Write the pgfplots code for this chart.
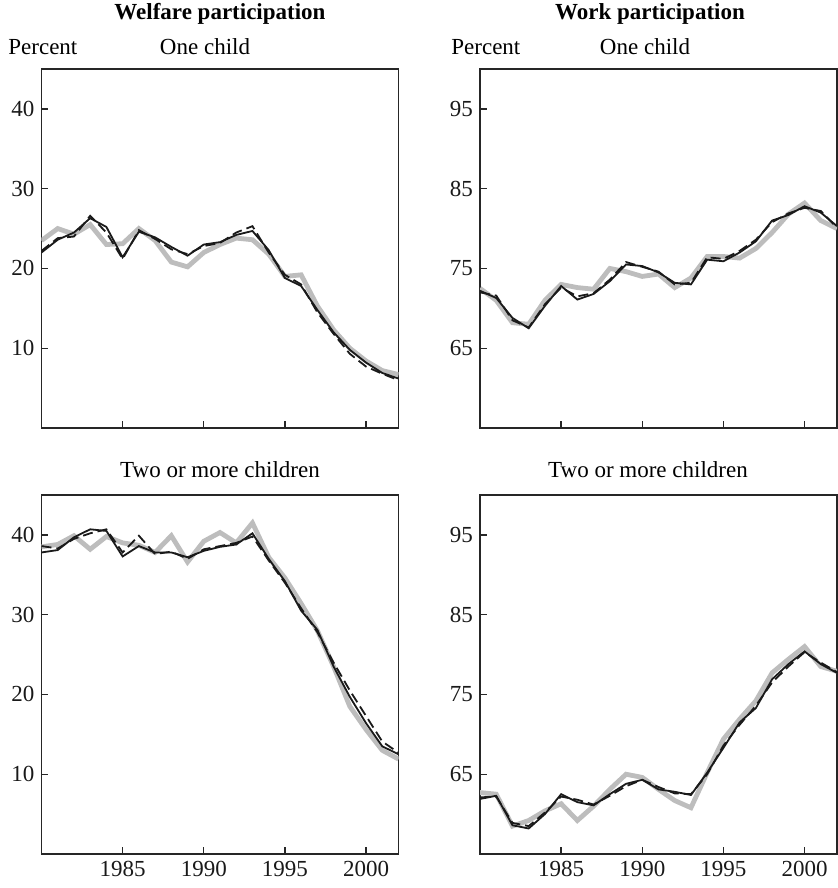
\documentclass[border=0pt]{standalone}
\usepackage{fontspec}
\setmainfont{Liberation Serif}
\usepackage{pgfplots}
\usepackage{pgfplotstable}
\pgfplotsset{compat=1.18}
\definecolor{lgray}{HTML}{BDBDBD}
\definecolor{ink}{HTML}{1A1A1A}

\pgfplotstableread{
year g s d
1980 23.5 22.0 22.2
1981 25.0 23.6 23.8
1982 24.3 24.5 24.0
1983 25.5 26.3 26.6
1984 23.0 25.2 24.5
1985 23.1 21.4 21.2
1986 25.0 24.6 24.8
1987 23.5 23.9 23.7
1988 20.8 22.7 22.4
1989 20.2 21.6 21.8
1990 22.0 23.0 22.8
1991 23.0 23.3 23.2
1992 23.8 24.2 24.5
1993 23.6 24.7 25.3
1994 21.8 22.3 22.0
1995 19.0 18.8 19.2
1996 19.2 17.8 18.0
1997 15.3 14.8 14.5
1998 12.3 12.0 11.8
1999 10.0 9.8 9.3
2000 8.4 8.2 7.7
2001 7.2 6.9 6.8
2002 6.7 6.2 6.0
}\welfareone

\pgfplotstableread{
year g s d
1980 72.5 72.2 72.0
1981 71.0 71.3 71.6
1982 68.2 68.8 68.5
1983 68.0 67.5 67.6
1984 71.0 70.3 70.5
1985 73.0 72.8 72.6
1986 72.6 71.1 71.5
1987 72.4 71.8 71.9
1988 75.0 73.4 73.6
1989 74.6 75.5 75.8
1990 74.0 75.3 75.2
1991 74.3 74.5 74.6
1992 72.6 73.2 73.0
1993 73.8 73.0 73.2
1994 76.5 76.1 76.4
1995 76.5 75.9 76.2
1996 76.3 77.0 77.2
1997 77.5 78.4 78.6
1998 79.5 81.0 80.8
1999 81.8 81.7 81.9
2000 83.2 82.8 82.6
2001 81.0 82.0 82.2
2002 80.0 80.3 80.1
}\workone

\pgfplotstableread{
year g s d
1980 38.5 37.8 38.6
1981 38.8 38.1 38.3
1982 39.9 39.7 39.5
1983 38.2 40.7 40.2
1984 39.8 40.5 40.7
1985 39.0 37.3 37.8
1986 38.7 38.6 39.9
1987 37.8 37.8 37.6
1988 39.9 37.8 37.9
1989 36.6 37.2 37.0
1990 39.2 38.0 38.2
1991 40.3 38.5 38.6
1992 39.0 38.8 39.0
1993 41.5 40.2 39.8
1994 37.2 37.0 36.8
1995 34.6 34.2 34.0
1996 31.4 30.5 30.8
1997 28.0 28.1 27.8
1998 23.5 23.5 24.0
1999 18.5 19.7 20.5
2000 15.6 16.4 17.3
2001 13.0 13.5 14.1
2002 11.9 12.5 12.7
}\welfaretwo

\pgfplotstableread{
year g s d
1980 62.7 61.9 62.1
1981 62.5 62.3 62.2
1982 58.5 58.6 58.9
1983 59.2 58.2 58.5
1984 60.4 60.0 60.2
1985 61.3 62.5 62.2
1986 59.2 61.5 61.8
1987 61.0 61.1 61.2
1988 63.1 62.5 62.3
1989 65.0 63.8 63.5
1990 64.6 64.3 64.3
1991 63.1 63.1 63.4
1992 61.7 62.8 62.6
1993 60.8 62.4 62.5
1994 65.2 65.2 65.0
1995 69.4 68.3 68.6
1996 71.9 71.5 71.2
1997 74.2 73.3 73.6
1998 77.7 76.9 76.5
1999 79.4 78.8 78.5
2000 81.0 80.4 80.3
2001 78.5 78.8 79.0
2002 77.9 77.7 77.8
}\worktwo

\pgfplotsset{
  panel/.style={
    scale only axis, width=178.5pt, height=179.5pt, anchor=south west,
    xmin=1980, xmax=2002, xtick={1985,1990,1995,2000},
    tick align=inside, xtick pos=bottom, ytick pos=left,
    major tick length=3.5pt,
    axis line style={line width=0.65pt, color=black!85},
    every tick/.style={line width=0.65pt, color=black!85},
    /pgf/number format/1000 sep={},
    /pgf/number format/assume math mode=true,
    tick label style={font=\fontsize{11.5}{13}\selectfont, text=black!90},
  },
  wel/.style={ymin=0, ymax=45, ytick={10,20,30,40}},
  wrk/.style={ymin=55, ymax=100, ytick={65,75,85,95}},
  gline/.style={color=lgray, line width=2.4pt, no markers},
  sline/.style={color=ink, line width=0.9pt, no markers},
  dline/.style={color=ink, line width=0.9pt, no markers, dash pattern=on 5pt off 2.5pt},
}

\begin{document}
\begin{tikzpicture}[font=\fontsize{11.5}{13}\selectfont]
\useasboundingbox (0,0) rectangle (418.5pt,-444pt);

\node[font=\bfseries\fontsize{11.5}{13}\selectfont] at (110pt,-7pt) {Welfare participation};
\node[font=\bfseries\fontsize{11.5}{13}\selectfont] at (325pt,-7pt) {Work participation};
\node[anchor=west, inner sep=0pt] at (4pt,-23.5pt) {Percent};
\node[anchor=west, inner sep=0pt] at (225.5pt,-23.5pt) {Percent};
\node at (102.5pt,-23.5pt) {One child};
\node at (322.5pt,-23.5pt) {One child};
\node at (110pt,-235pt) {Two or more children};
\node at (324pt,-235pt) {Two or more children};

\begin{axis}[panel, wel, at={(20.75pt,-214pt)}, xticklabels={}]
\addplot[gline] table[x=year,y=g]{\welfareone};
\addplot[sline] table[x=year,y=s]{\welfareone};
\addplot[dline] table[x=year,y=d]{\welfareone};
\end{axis}

\begin{axis}[panel, wrk, at={(240pt,-214pt)}, xticklabels={}]
\addplot[gline] table[x=year,y=g]{\workone};
\addplot[sline] table[x=year,y=s]{\workone};
\addplot[dline] table[x=year,y=d]{\workone};
\end{axis}

\begin{axis}[panel, wel, at={(20.75pt,-427pt)}]
\addplot[gline] table[x=year,y=g]{\welfaretwo};
\addplot[sline] table[x=year,y=s]{\welfaretwo};
\addplot[dline] table[x=year,y=d]{\welfaretwo};
\end{axis}

\begin{axis}[panel, wrk, at={(240pt,-427pt)}]
\addplot[gline] table[x=year,y=g]{\worktwo};
\addplot[sline] table[x=year,y=s]{\worktwo};
\addplot[dline] table[x=year,y=d]{\worktwo};
\end{axis}
\end{tikzpicture}
\end{document}
